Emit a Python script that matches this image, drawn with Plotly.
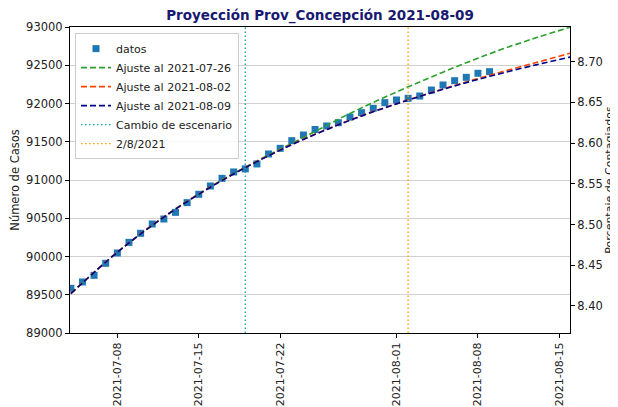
import pandas as pd
import plotly.graph_objects as go

# datos diarios (casos acumulados)
fechas = pd.date_range("2021-07-04", "2021-08-09", freq="D")
casos = [89584, 89667, 89754, 89911, 90046, 90185, 90303, 90425, 90490, 90577,
         90704, 90813, 90922, 91022, 91105, 91145, 91210, 91340, 91414, 91514,
         91588, 91660, 91706, 91749, 91822, 91880, 91937, 92011, 92046, 92068,
         92098, 92176, 92242, 92298, 92342, 92395, 92416]

# curvas de ajuste
fechas_ajuste = ["2021-07-04", "2021-07-08", "2021-07-12", "2021-07-16", "2021-07-20",
                 "2021-07-24", "2021-07-28", "2021-08-01", "2021-08-05", "2021-08-09",
                 "2021-08-13", "2021-08-16"]
ajuste_0726 = [89515, 90055, 90518, 90912, 91250, 91555, 91870, 92150, 92410, 92650, 92860, 93000]
ajuste_0802 = [89518, 90058, 90518, 90908, 91243, 91533, 91783, 91998, 92190, 92370, 92535, 92660]
ajuste_0809 = [89515, 90055, 90515, 90905, 91240, 91530, 91780, 91995, 92185, 92355, 92505, 92610]

fecha_cambio = "2021-07-19"
fecha_corte = "2021-08-02"
poblacion = 1063750

y_rango = [89000, 93000]
x_rango = ["2021-07-03 22:20", "2021-08-15 22:00"]
x_ticks = ["2021-07-08", "2021-07-15", "2021-07-22", "2021-08-01", "2021-08-08", "2021-08-15"]

font = "DejaVu Sans"

fig = go.Figure()

fig.add_trace(go.Scatter(
    x=fechas, y=casos, mode="markers", name="datos",
    marker=dict(symbol="square", size=7, color="#1f77b4"),
))

for nombre, vals, color in [("Ajuste al 2021-07-26", ajuste_0726, "#2ca02c"),
                            ("Ajuste al 2021-08-02", ajuste_0802, "#ff4500"),
                            ("Ajuste al 2021-08-09", ajuste_0809, "#00008b")]:
    fig.add_trace(go.Scatter(
        x=fechas_ajuste, y=vals, mode="lines", name=nombre,
        line=dict(color=color, width=1.6, dash="6px,3px", shape="spline"),
    ))

fig.add_trace(go.Scatter(
    x=[fecha_cambio, fecha_cambio], y=y_rango, mode="lines", name="Cambio de escenario",
    line=dict(color="#17a0a8", width=1.4, dash="1.5px,2.5px"),
))
fig.add_trace(go.Scatter(
    x=[fecha_corte, fecha_corte], y=y_rango, mode="lines", name="2/8/2021",
    line=dict(color="#ffa500", width=1.4, dash="1.5px,2.5px"),
))

# eje derecho: porcentaje de contagiados
fig.add_trace(go.Scatter(
    x=fechas, y=[c / poblacion * 100 for c in casos], yaxis="y2",
    mode="markers", marker=dict(opacity=0), showlegend=False, hoverinfo="skip",
))

# la pagina deja 8px de margen en el body, por eso 610x399
fig.update_layout(
    width=610, height=399,
    margin=dict(l=62, r=48, t=19, b=74),
    paper_bgcolor="white", plot_bgcolor="white",
    font=dict(family=font, size=11.5, color="#222"),
    title=dict(text="<b>Proyección Prov_Concepción 2021-08-09</b>",
               font=dict(family=font, size=13.5, color="#191970"),
               x=0.5, xref="paper", xanchor="center", y=1, yanchor="top",
               pad=dict(t=3)),
    xaxis=dict(range=x_rango, tickvals=x_ticks, ticktext=x_ticks, tickangle=-90,
               tickfont=dict(size=11),
               showgrid=False, showline=True, linecolor="black", mirror=True,
               ticks="outside", ticklen=4, tickcolor="black", automargin=False,
               zeroline=False),
    yaxis=dict(range=y_rango, dtick=500, tick0=89000, tickformat="d",
               showgrid=True, gridcolor="#d0d0d0",
               showline=True, linecolor="black", mirror=True, ticks="outside",
               ticklen=4, tickcolor="black", zeroline=False, automargin=False,
               title=dict(text="Número de Casos", standoff=6, font=dict(size=11.5))),
    yaxis2=dict(range=[y_rango[0] / poblacion * 100, y_rango[1] / poblacion * 100],
                overlaying="y", side="right", tick0=8.4, dtick=0.05, tickformat=".2f",
                showgrid=False, showline=True, linecolor="black", ticks="outside",
                ticklen=4, tickcolor="black", zeroline=False, automargin=False,
                title=dict(text="Porcentaje de Contagiados", standoff=1,
                           font=dict(size=11))),
    legend=dict(x=0.01, y=0.98, xanchor="left", yanchor="top",
                bgcolor="rgba(255,255,255,0.85)", bordercolor="#cccccc", borderwidth=1,
                font=dict(family=font, size=11), tracegroupgap=0),
    showlegend=True,
)

fig.write_html("out.html")
